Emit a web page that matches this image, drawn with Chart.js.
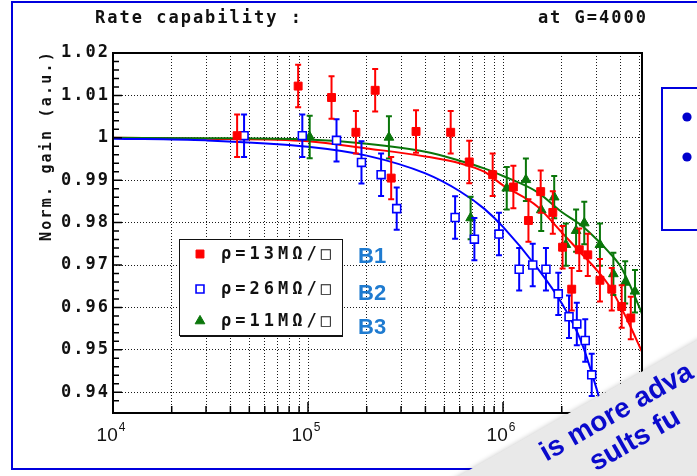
<!DOCTYPE html>
<html>
<head>
<meta charset="utf-8">
<title>Rate capability</title>
<script src="https://cdn.jsdelivr.net/npm/chart.js@4.4.1/dist/chart.umd.min.js"></script>
<style>
  html, body { margin: 0; padding: 0; background: #fff; }
  canvas { display: block; }
</style>
</head>
<body>
<canvas id="rateChart" width="697" height="476"></canvas>
<script>
// measured gain vs rate, three resistive layers
const redRate = [4.33e4, 8.9e4, 1.32e5, 1.76e5, 2.21e5, 2.67e5, 3.58e5, 5.39e5, 6.71e5, 8.85e5, 1.13e6,
  1.35e6, 1.56e6, 1.80e6, 2.02e6, 2.25e6, 2.46e6, 2.72e6, 3.14e6, 3.61e6, 4.06e6, 4.52e6];
const redGain = [1.0005, 1.0122, 1.0095, 1.0013, 1.0112, 0.9905, 1.0015, 1.0013, 0.9943, 0.9913, 0.9884,
  0.9805, 0.9873, 0.9824, 0.9742, 0.9643, 0.9736, 0.9724, 0.9664, 0.9643, 0.9602, 0.9575];

const blueRate = [4.7e4, 9.35e4, 1.40e5, 1.88e5, 2.37e5, 2.85e5, 5.68e5, 7.13e5, 9.53e5, 1.21e6, 1.42e6,
  1.66e6, 1.92e6, 2.18e6, 2.39e6, 2.64e6, 2.85e6];
const blueGain = [1.0005, 1.0005, 0.9994, 0.9942, 0.9913, 0.9833, 0.9812, 0.9761, 0.9773, 0.9690, 0.9700,
  0.9690, 0.9632, 0.9578, 0.9561, 0.9522, 0.9441];

const greenRate = [1.02e5, 2.60e5, 6.82e5, 1.045e6, 1.31e6, 1.57e6, 1.83e6, 2.10e6, 2.37e6, 2.61e6,
  3.14e6, 3.68e6, 4.23e6, 4.75e6];
const greenGain = [1.0002, 1.0001, 0.9811, 0.9881, 0.9901, 0.9830, 0.9860, 0.9748, 0.9781, 0.9799,
  0.9748, 0.9679, 0.9659, 0.9638];

const gainErr = 0.005;

// fitted curves
const fitRate = [1e4, 3e4, 1e5, 2e5, 4e5, 6e5, 8e5, 1e6, 1.5e6, 2e6, 2.5e6, 3e6, 3.5e6, 4e6, 4.5e6, 5.16e6];
const redFit = [1.0000, 0.9998, 0.9992, 0.9975, 0.9956, 0.9940, 0.9920, 0.9888, 0.9838, 0.9777, 0.9729,
  0.9690, 0.9651, 0.9603, 0.9555, 0.9495];
const greenFit = [1.0000, 0.9999, 0.9996, 0.9986, 0.9967, 0.9946, 0.9928, 0.9910, 0.9872, 0.9825, 0.9795,
  0.9762, 0.9730, 0.9697, 0.9650, 0.9585];
const blueFitRate = [1e4, 3e4, 1e5, 2e5, 4e5, 6e5, 8e5, 1e6, 1.5e6, 2e6, 2.5e6, 3e6, 3.5e6];
const blueFit = [0.9998, 0.9994, 0.9979, 0.9958, 0.9916, 0.9874, 0.9833, 0.9790, 0.9693, 0.9610, 0.9523,
  0.9412, 0.9300];

const seriesNames = ['ρ=13MΩ/□', 'ρ=26MΩ/□', 'ρ=11MΩ/□'];
const boardNames = ['B1', 'B2', 'B3'];

const yMajorTicks = [0.94, 0.95, 0.96, 0.97, 0.98, 0.99, 1, 1.01, 1.02];
const yTickLabels = ['0.94', '0.95', '0.96', '0.97', '0.98', '0.99', '1', '1.01', '1.02'];
const xDecades = [1e4, 1e5, 1e6];
const xDecadeExp = ['4', '5', '6'];

const xMin = 1e4, xMax = 5.16e6, yMin = 0.9351, yMax = 1.02;

const RED = '#ff0000', BLUE = '#0000ff', GREEN = '#0a760a';
const MONO = '"DejaVu Sans Mono", monospace';
const gridColor = '#1a1a1a';

function pts(xs, ys, err) {
  return xs.map((v, i) => err === undefined ? { x: v, y: ys[i] } : { x: v, y: ys[i], err: err });
}
function yMajorIndex(v) {
  return yMajorTicks.findIndex(t => Math.abs(t - v) < 1e-6);
}
function onLogGrid(v) {
  const m = v / Math.pow(10, Math.floor(Math.log10(v) + 1e-9));
  return Math.abs(m - Math.round(m)) < 1e-6;
}
function isDecade(v) {
  const l = Math.log10(v);
  return Math.abs(l - Math.round(l)) < 1e-9;
}

const drawMarker = (ctx, style, r, fill, stroke, bw, x, y) => {
  ctx.save();
  ctx.fillStyle = fill;
  ctx.strokeStyle = stroke;
  ctx.lineWidth = bw;
  Chart.helpers.drawPoint(ctx, { pointStyle: style, radius: r, borderWidth: bw, rotation: 0 }, x, y);
  ctx.restore();
};

const plotDecor = {
  id: 'plotDecor',
  beforeDraw(chart) {
    const ctx = chart.ctx;
    ctx.save();
    ctx.fillStyle = '#fff';
    ctx.fillRect(0, 0, chart.width, chart.height);
    // outer frame
    ctx.strokeStyle = '#0000dd';
    ctx.lineWidth = 2;
    ctx.strokeRect(12, 2, 720, 467);
    // header line
    ctx.fillStyle = '#111';
    ctx.font = 'bold 17px ' + MONO;
    ctx.letterSpacing = '2px';
    ctx.textBaseline = 'middle';
    ctx.textAlign = 'left';
    ctx.fillText('Rate capability :', 95, 19);
    ctx.textAlign = 'right';
    ctx.fillText('at G=4000', 648, 19);
    // y axis title
    ctx.font = 'bold 15px ' + MONO;
    ctx.letterSpacing = '2.2px';
    ctx.translate(47, 241);
    ctx.rotate(-Math.PI / 2);
    ctx.textAlign = 'left';
    ctx.fillText('Norm. gain (a.u.)', 0, 0);
    ctx.restore();
    // spaced digits for the tick labels drawn next
    ctx.letterSpacing = '2px';
  },
  beforeDatasetsDraw(chart) {
    chart.ctx.letterSpacing = '0px';
  },
  beforeDatasetDraw(chart, args) {
    const ds = chart.data.datasets[args.index];
    if (!ds.errColor) return;
    const { ctx, scales: { x, y } } = chart;
    ctx.save();
    ctx.strokeStyle = ds.errColor;
    ctx.lineWidth = 2;
    ds.data.forEach(p => {
      const px = x.getPixelForValue(p.x);
      const top = y.getPixelForValue(p.y + p.err);
      const bot = y.getPixelForValue(p.y - p.err);
      ctx.beginPath();
      ctx.moveTo(px, top); ctx.lineTo(px, bot);
      ctx.moveTo(px - 3, top); ctx.lineTo(px + 3, top);
      ctx.moveTo(px - 3, bot); ctx.lineTo(px + 3, bot);
      ctx.stroke();
    });
    ctx.restore();
  },
  afterDatasetsDraw(chart) {
    const { ctx, chartArea: a, scales: { x, y } } = chart;
    ctx.save();
    // frame
    ctx.strokeStyle = '#000';
    ctx.lineWidth = 2;
    ctx.strokeRect(a.left, a.top, a.right - a.left, a.bottom - a.top);
    // inner tick marks
    ctx.lineWidth = 1.5;
    ctx.beginPath();
    y.ticks.forEach(t => {
      if (t.value <= yMin + 1e-6) return;
      const py = y.getPixelForValue(t.value);
      const len = yMajorIndex(t.value) >= 0 ? 9 : 6;
      ctx.moveTo(a.left, py); ctx.lineTo(a.left + len, py);
    });
    x.ticks.forEach(t => {
      if (!onLogGrid(t.value) || t.value >= xMax * 0.999) return;
      const px = x.getPixelForValue(t.value);
      const len = isDecade(t.value) ? 11 : 7;
      ctx.moveTo(px, a.bottom); ctx.lineTo(px, a.bottom - len);
    });
    ctx.stroke();
    // decade labels
    ctx.fillStyle = '#111';
    ctx.textBaseline = 'alphabetic';
    xDecades.forEach((d, i) => {
      const px = x.getPixelForValue(d) - 2;
      ctx.font = '19px "Liberation Sans", Arial, sans-serif';
      const wb = ctx.measureText('10').width;
      ctx.font = '12px "Liberation Sans", Arial, sans-serif';
      const we = ctx.measureText(xDecadeExp[i]).width;
      const x0 = px - (wb + we + 1) / 2;
      ctx.font = '19px "Liberation Sans", Arial, sans-serif';
      ctx.textAlign = 'left';
      ctx.fillText('10', x0, 441);
      ctx.font = '12px "Liberation Sans", Arial, sans-serif';
      ctx.fillText(xDecadeExp[i], x0 + wb + 1, 431);
    });
    ctx.restore();
  },
  afterDraw(chart) {
    const ctx = chart.ctx;
    const sets = chart.data.datasets.filter(d => d.errColor);
    ctx.save();
    // legend box
    ctx.fillStyle = '#fff';
    ctx.fillRect(179, 239, 164, 97);
    ctx.strokeStyle = '#111';
    ctx.lineWidth = 1;
    ctx.strokeRect(179.5, 239.5, 163, 96);
    ctx.lineWidth = 2;
    ctx.beginPath(); ctx.moveTo(180, 336); ctx.lineTo(343, 336); ctx.stroke();
    const rows = [254, 289, 321];
    sets.forEach((ds, i) => {
      drawMarker(ctx, ds.pointStyle, ds.pointRadius, ds.backgroundColor, ds.borderColor, ds.borderWidth, 200, rows[i]);
      ctx.fillStyle = '#111';
      ctx.font = 'bold 17px ' + MONO;
      ctx.letterSpacing = '4px';
      ctx.textAlign = 'left';
      ctx.textBaseline = 'middle';
      ctx.fillText(ds.label, 221, rows[i] + 1);
      ctx.letterSpacing = '0px';
      ctx.fillStyle = '#1f7bd0';
      ctx.font = 'bold 22px "Liberation Sans", Arial, sans-serif';
      ctx.fillText(boardNames[i], 358, rows[i] + 3 + i * 2);
    });
    // side box
    ctx.fillStyle = '#fff';
    ctx.fillRect(662, 88, 60, 142);
    ctx.strokeStyle = '#0000dd';
    ctx.lineWidth = 2;
    ctx.strokeRect(662, 88, 60, 142);
    ctx.fillStyle = '#0000cc';
    [117, 157].forEach(by => {
      ctx.beginPath(); ctx.arc(687, by, 4.6, 0, Math.PI * 2); ctx.fill();
    });
    // slanted banner
    ctx.translate(564, 416);
    ctx.rotate(-0.518);
    ctx.shadowColor = 'rgba(0,0,0,0.22)';
    ctx.shadowBlur = 5;
    ctx.fillStyle = '#e9e9e9';
    ctx.fillRect(-300, 0, 700, 220);
    ctx.shadowColor = 'transparent';
    ctx.fillStyle = '#0a0acc';
    ctx.font = 'bold 28px "Liberation Sans", Arial, sans-serif';
    ctx.textAlign = 'left';
    ctx.textBaseline = 'alphabetic';
    ctx.fillText('is more adva', -38, 31);
    ctx.fillText('sults fu', 0, 64);
    ctx.restore();
  }
};

const datasets = [
  { label: seriesNames[0], data: pts(redRate, redGain, gainErr), showLine: false, order: 0,
    pointStyle: 'rect', pointRadius: 5.6, backgroundColor: RED, borderColor: RED, borderWidth: 1, errColor: RED },
  { label: seriesNames[1], data: pts(blueRate, blueGain, gainErr), showLine: false, order: 0,
    pointStyle: 'rect', pointRadius: 5.6, backgroundColor: '#fff', borderColor: BLUE, borderWidth: 1.6, errColor: BLUE },
  { label: seriesNames[2], data: pts(greenRate, greenGain, gainErr), showLine: false, order: 0,
    pointStyle: 'triangle', pointRadius: 5.6, backgroundColor: GREEN, borderColor: GREEN, borderWidth: 1, errColor: GREEN },
  { label: 'fit B1', data: pts(fitRate, redFit), showLine: true, order: 2, pointRadius: 0,
    borderColor: RED, borderWidth: 2, cubicInterpolationMode: 'monotone' },
  { label: 'fit B2', data: pts(blueFitRate, blueFit), showLine: true, order: 1, pointRadius: 0,
    borderColor: BLUE, borderWidth: 2, cubicInterpolationMode: 'monotone' },
  { label: 'fit B3', data: pts(fitRate, greenFit), showLine: true, order: 1, pointRadius: 0,
    borderColor: GREEN, borderWidth: 2, cubicInterpolationMode: 'monotone' }
];

new Chart(document.getElementById('rateChart'), {
  type: 'scatter',
  data: { datasets: datasets },
  options: {
    responsive: false,
    animation: false,
    events: [],
    layout: { padding: { left: 0, right: 55, top: 53, bottom: 0 } },
    plugins: { legend: { display: false }, tooltip: { enabled: false } },
    scales: {
      x: {
        type: 'logarithmic',
        min: xMin,
        max: xMax,
        afterFit(s) { s.height = 63; },
        ticks: { display: false, autoSkip: false },
        grid: {
          drawTicks: false,
          lineWidth: 1,
          color: c => (c.tick && onLogGrid(c.tick.value) && c.tick.value > xMin * 1.01 && c.tick.value < xMax * 0.999)
            ? gridColor : 'rgba(0,0,0,0)'
        },
        border: { display: false, dash: [1, 2] }
      },
      y: {
        min: yMin,
        max: yMax,
        afterFit(s) { s.width = 113; },
        ticks: {
          stepSize: 0.002,
          autoSkip: false,
          maxTicksLimit: 100,
          padding: 3,
          color: '#111',
          font: { family: 'DejaVu Sans Mono', size: 17, weight: 'bold' },
          callback: v => {
            const k = yMajorIndex(v);
            return k >= 0 ? yTickLabels[k] : '';
          }
        },
        grid: {
          drawTicks: false,
          lineWidth: 1,
          color: c => (c.tick && yMajorIndex(c.tick.value) >= 0 && c.tick.value < yMax - 1e-6) ? gridColor : 'rgba(0,0,0,0)'
        },
        border: { display: false, dash: [1, 2] }
      }
    }
  },
  plugins: [plotDecor]
});
</script>
</body>
</html>
